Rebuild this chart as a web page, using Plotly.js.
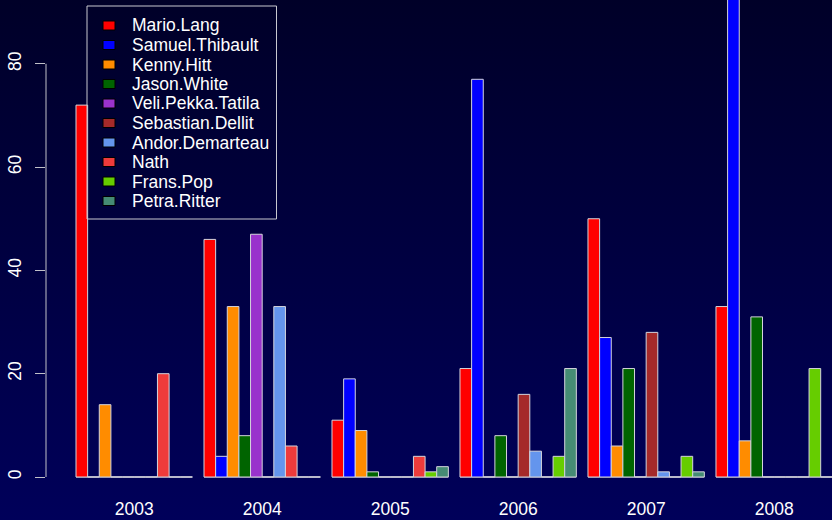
<!DOCTYPE html>
<html>
<head>
<meta charset="utf-8">
<script src="https://cdn.plot.ly/plotly-3.0.1.min.js"></script>
<style>
  html, body { margin: 0; padding: 0; }
  body { width: 832px; height: 520px; background: linear-gradient(to bottom, #000028, #00005a); overflow: hidden; }
  #chart { width: 832px; height: 520px; }
</style>
</head>
<body>
<div id="chart"></div>
<script>
// ---- data ----
const years = ["2003", "2004", "2005", "2006", "2007", "2008"];
const people = ["Mario.Lang", "Samuel.Thibault", "Kenny.Hitt", "Jason.White", "Veli.Pekka.Tatila",
                "Sebastian.Dellit", "Andor.Demarteau", "Nath", "Frans.Pop", "Petra.Ritter"];
const colors = ["#FF0000", "#0000FF", "#FF8C00", "#006400", "#9932CC",
                "#A52A2A", "#6495ED", "#EE3B3B", "#66CD00", "#458B74"];
const marioLang       = [72, 46, 11, 21, 50, 33];
const samuelThibault  = [0, 4, 19, 77, 27, 110];
const kennyHitt       = [14, 33, 9, 0, 6, 7];
const jasonWhite      = [0, 8, 1, 8, 21, 31];
const veliPekkaTatila = [0, 47, 0, 0, 0, 0];
const sebastianDellit = [0, 0, 0, 16, 28, 0];
const andorDemarteau  = [0, 33, 0, 5, 1, 0];
const nath            = [20, 6, 4, 0, 0, 0];
const fransPop        = [0, 0, 1, 4, 4, 21];
const petraRitter     = [0, 0, 2, 21, 1, 0];
const series = [marioLang, samuelThibault, kennyHitt, jasonWhite, veliPekkaTatila,
                sebastianDellit, andorDemarteau, nath, fransPop, petraRitter];
const yTicks = [0, 20, 40, 60, 80];

// ---- chart ----
const fontFam = '"Liberation Sans", Arial, Helvetica, sans-serif';
const fs = 17.5;
const borderCol = '#d4d4dc';
const bargap = 1 / 11;
const xIdx = years.map((_, i) => i);

// plot-area geometry (pixels) for placing the legend
const M = { l: 46, r: 0, t: 0, b: 30 };
const PW = 832 - M.l - M.r, PH = 520 - M.t - M.b;
const px = v => (v - M.l) / PW;
const py = v => 1 - (v - M.t) / PH;

const traces = series.map((vals, k) => ({
  type: 'bar',
  name: people[k],
  x: xIdx,
  y: vals,
  marker: { color: colors[k], line: { color: borderCol, width: 1 } },
  hoverinfo: 'skip',
  showlegend: false
}));

// baseline under every group (zero-height bars in the original)
const shapes = xIdx.map(i => ({
  type: 'line', xref: 'x', yref: 'y',
  x0: i - 0.5 + bargap / 2, x1: i + 0.5 - bargap / 2, y0: 0, y1: 0,
  line: { color: borderCol, width: 1 }, layer: 'below'
}));
// y axis line only across the tick range
shapes.push({
  type: 'line', xref: 'paper', yref: 'y',
  x0: 0, x1: 0, y0: yTicks[0], y1: yTicks[yTicks.length - 1],
  line: { color: '#c0c0c8', width: 1 }
});

// legend box (R style)
const legLeft = 87, legTop = 6, legRight = 276.5, legBottom = 219;
const row0 = 25.5, rowH = 19.5;
shapes.push({
  type: 'rect', xref: 'paper', yref: 'paper',
  x0: px(legLeft), x1: px(legRight), y0: py(legTop), y1: py(legBottom),
  line: { color: '#c8c8d0', width: 1 }, fillcolor: 'rgba(0,0,0,0)', layer: 'above'
});
const annotations = [];
people.forEach((name, k) => {
  const cy = row0 + k * rowH;
  shapes.push({
    type: 'rect', xref: 'paper', yref: 'paper',
    x0: px(103), x1: px(115), y0: py(cy - 4.5), y1: py(cy + 4.5),
    fillcolor: colors[k], line: { color: '#000000', width: 1 }, layer: 'above'
  });
  annotations.push({
    xref: 'paper', yref: 'paper', x: px(130), y: py(cy),
    xanchor: 'left', yanchor: 'middle', showarrow: false,
    text: name, font: { family: fontFam, size: fs, color: '#ffffff' }
  });
});

const layout = {
  width: 832, height: 520,
  paper_bgcolor: 'rgba(0,0,0,0)',
  plot_bgcolor: 'rgba(0,0,0,0)',
  margin: { l: M.l, r: M.r, t: M.t, b: M.b, pad: 0 },
  barmode: 'group',
  bargap: bargap,
  bargroupgap: 0,
  font: { family: fontFam, size: fs, color: '#ffffff' },
  showlegend: false,
  xaxis: {
    type: 'linear',
    range: [-0.689, 5.452],
    tickvals: xIdx, ticktext: years,
    showgrid: false, zeroline: false, showline: false,
    ticks: 'outside', ticklen: 3, tickcolor: 'rgba(0,0,0,0)',
    tickfont: { family: fontFam, size: fs, color: '#ffffff' },
    fixedrange: true
  },
  yaxis: {
    range: [-13 / 5.165, 477 / 5.165],
    tickvals: yTicks,
    showgrid: false, zeroline: false, showline: false,
    ticks: 'outside', ticklen: 10, tickcolor: '#c0c0c8', tickwidth: 1,
    tickangle: -90,
    ticklabelstandoff: 7,
    tickfont: { family: fontFam, size: fs, color: '#ffffff' },
    fixedrange: true
  },
  shapes: shapes,
  annotations: annotations
};

Plotly.newPlot('chart', traces, layout, { displayModeBar: false, staticPlot: true });
</script>
</body>
</html>
